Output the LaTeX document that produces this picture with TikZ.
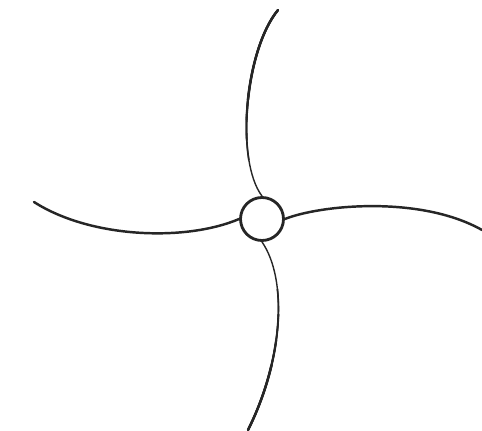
\documentclass[tikz,border=0pt]{standalone}
\begin{document}
\begin{tikzpicture}[x=0.02cm,y=-0.02cm,
  arm/.style={draw=black!85, line width=1.4pt, line cap=round},
  thinarm/.style={draw=black!85, line width=0.8pt, line cap=round},
  hub/.style={circle, draw=black!85, line width=1.6pt, inner sep=0pt, minimum size=0.86cm}]
\useasboundingbox[fill=white] (0,0) rectangle (482,431);
\node[hub] (c) at (262,219) {};
\coordinate (tEnd) at (278,10);
\coordinate (lEnd) at (34,202);
\coordinate (rEnd) at (482,230);
\coordinate (bEnd) at (248,430);
% left and right arms
\draw[arm] (lEnd) .. controls (90,238) and (185,242) .. (c.west);
\draw[arm] (c.east) .. controls (320,205) and (420,195) .. (rEnd);
% top arm (tapering)
\draw[thinarm] (tEnd) .. controls (245,50) and (235,160) .. (c.north);
\foreach \lim/\w in {160/0.95, 140/1.1, 120/1.25, 100/1.4}{
  \begin{scope}
    \clip (0,0) rectangle (482,\lim);
    \draw[thinarm, line width=\w pt] (tEnd) .. controls (245,50) and (235,160) .. (c.north);
  \end{scope}
}
% bottom arm (tapering)
\draw[thinarm] (c.south) .. controls (288,280) and (283,360) .. (bEnd);
\foreach \lim/\w in {290/0.95, 315/1.1, 340/1.25, 365/1.4}{
  \begin{scope}
    \clip (0,\lim) rectangle (482,431);
    \draw[thinarm, line width=\w pt] (c.south) .. controls (288,280) and (283,360) .. (bEnd);
  \end{scope}
}
\end{tikzpicture}
\end{document}
